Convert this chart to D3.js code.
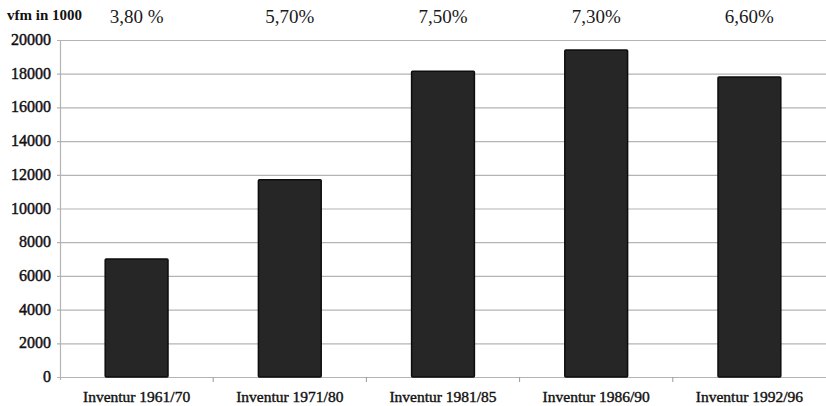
<!DOCTYPE html>
<html>
<head>
<meta charset="utf-8">
<script src="https://cdn.jsdelivr.net/npm/d3@7"></script>
<style>
  html, body { margin: 0; padding: 0; background: #fff; }
  svg { display: block; }
</style>
</head>
<body>
<svg id="chart" width="826" height="406"></svg>
<script>
// Holzvorrat (vfm in 1000) je Inventurperiode
const categories = ["Inventur 1961/70", "Inventur 1971/80", "Inventur 1981/85", "Inventur 1986/90", "Inventur 1992/96"];
const values = [7000, 11700, 18150, 19400, 17800];
const shares = ["3,80 %", "5,70%", "7,50%", "7,30%", "6,60%"];
const yTicks = [0, 2000, 4000, 6000, 8000, 10000, 12000, 14000, 16000, 18000, 20000];

const FONT = "'Liberation Serif', 'Times New Roman', Times, 'DejaVu Serif', serif";

const svg = d3.select("#chart")
  .attr("font-family", FONT);
const margin = { left: 60, right: 0, top: 40, bottom: 29 };
const W = 826, H = 406;

const x = d3.scaleBand()
  .domain(categories)
  .range([margin.left, W - margin.right])
  .paddingInner(0.59)
  .paddingOuter(0.295);

const y = d3.scaleLinear()
  .domain([0, 20000])
  .range([H - margin.bottom, margin.top]);

// horizontal grid lines
svg.append("g")
  .selectAll("line")
  .data(yTicks)
  .join("line")
  .attr("x1", margin.left - 3)
  .attr("x2", W)
  .attr("y1", d => y(d) + 0.5)
  .attr("y2", d => y(d) + 0.5)
  .attr("stroke", "#b4b4b4")
  .attr("stroke-width", 1.2);

// y axis line
svg.append("line")
  .attr("x1", margin.left + 0.5).attr("x2", margin.left + 0.5)
  .attr("y1", y(20000)).attr("y2", y(0) + 3)
  .attr("stroke", "#b4b4b4").attr("stroke-width", 1.2);

// category separator ticks
const step = x.step();
svg.append("g")
  .selectAll("line")
  .data(categories.slice(1))
  .join("line")
  .attr("x1", d => x(d) - x.paddingInner() * step / 2)
  .attr("x2", d => x(d) - x.paddingInner() * step / 2)
  .attr("y1", y(0))
  .attr("y2", y(0) + 5)
  .attr("stroke", "#9a9a9a");

// y tick labels
svg.append("g")
  .selectAll("text")
  .data(yTicks)
  .join("text")
  .attr("x", 51)
  .attr("y", d => y(d) + 5)
  .attr("text-anchor", "end")
  .attr("font-family", FONT)
  .attr("font-size", 16)
  .attr("fill", "#111")
  .attr("stroke", "#111")
  .attr("stroke-width", 0.45)
  .text(d => d);

// bars
svg.append("g")
  .selectAll("rect")
  .data(values)
  .join("rect")
  .attr("x", (d, i) => x(categories[i]))
  .attr("width", x.bandwidth())
  .attr("y", d => y(d))
  .attr("height", d => y(0) - y(d))
  .attr("fill", "#262626")
  .attr("stroke", "#0d0d0d")
  .attr("stroke-width", 1.5)
  .attr("rx", 1);

// category labels
svg.append("g")
  .selectAll("text")
  .data(categories)
  .join("text")
  .attr("x", d => x(d) + x.bandwidth() / 2)
  .attr("y", 402)
  .attr("text-anchor", "middle")
  .attr("font-family", FONT)
  .attr("font-size", 15.5)
  .attr("fill", "#111")
  .attr("stroke", "#111")
  .attr("stroke-width", 0.4)
  .text(d => d);

// percentage labels above the plot
svg.append("g")
  .selectAll("text")
  .data(shares)
  .join("text")
  .attr("x", (d, i) => x(categories[i]) + x.bandwidth() / 2)
  .attr("y", 23)
  .attr("text-anchor", "middle")
  .attr("font-family", FONT)
  .attr("font-size", 19)
  .attr("fill", "#1a1a1a")
  .text(d => d);

// unit label
svg.append("text")
  .attr("x", 7)
  .attr("y", 20)
  .attr("font-family", FONT)
  .attr("font-size", 15)
  .attr("font-weight", "bold")
  .attr("fill", "#111")
  .text("vfm in 1000");
</script>
</body>
</html>
